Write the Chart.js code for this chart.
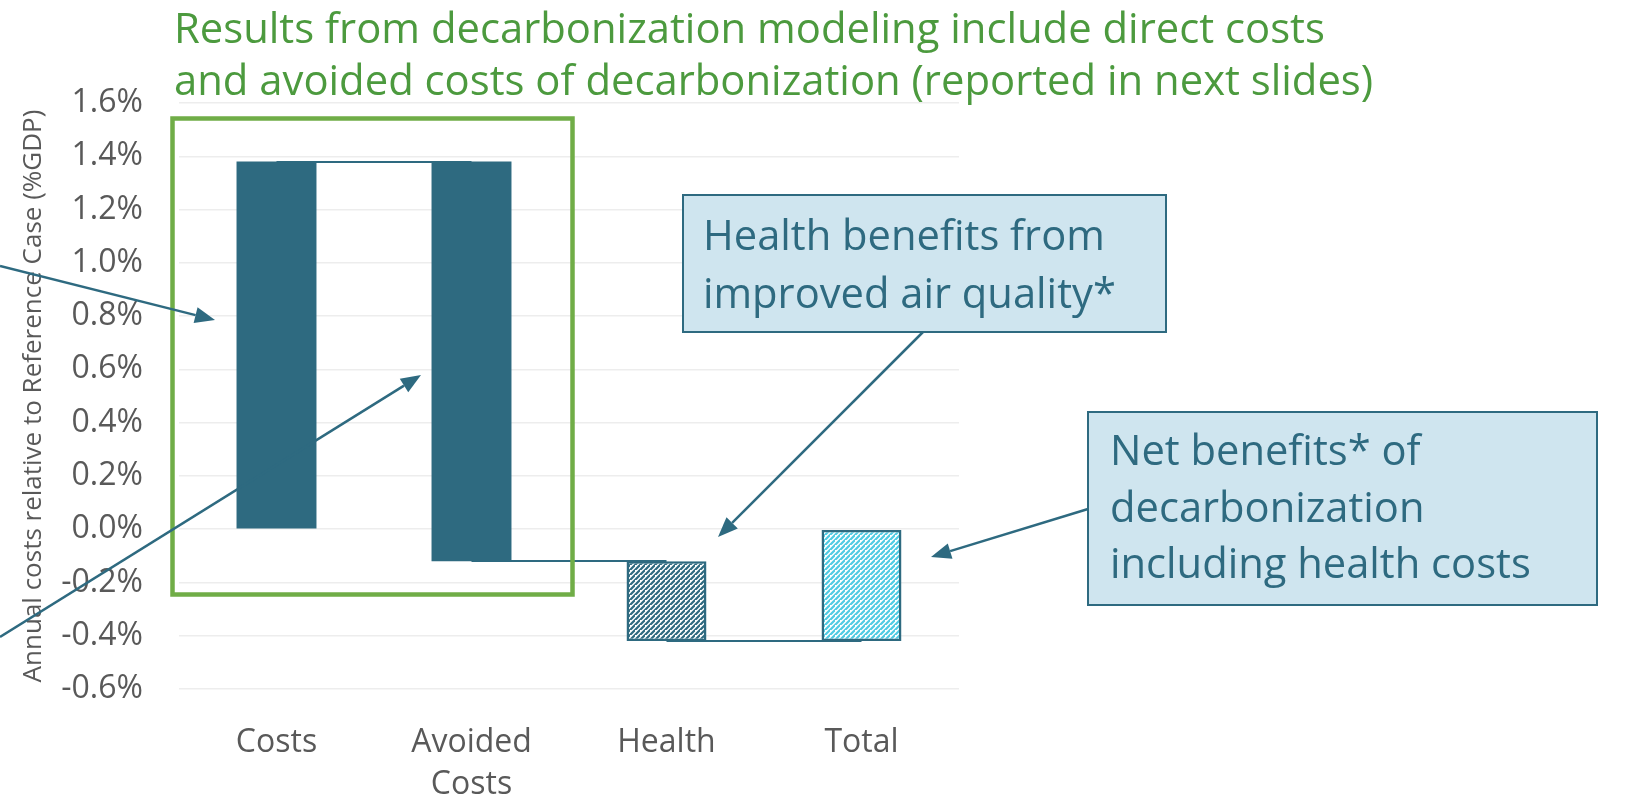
<!DOCTYPE html>
<html>
<head>
<meta charset="utf-8">
<script src="https://cdn.jsdelivr.net/npm/chart.js@4.4.1/dist/chart.umd.min.js"></script>
<style>
  html, body { margin: 0; padding: 0; background: #fff; }
  #wrap { width: 1632px; height: 797px; position: relative; }
</style>
</head>
<body>
<div id="wrap"><canvas id="chart"></canvas></div>
<script>
// waterfall data (% of GDP)
const categories = ['Costs', ['Avoided', 'Costs'], 'Health', 'Total'];
const barStart = [0, 1.38, -0.12, 0];
const barEnd = [1.38, -0.12, -0.42, -0.42];
const yTicks = { min: -0.6, max: 1.6, step: 0.2 };

const headline = [
    'Results from decarbonization modeling include direct costs',
    'and avoided costs of decarbonization (reported in next slides)'
];
const healthNote = ['Health benefits from', 'improved air quality*'];
const netNote = ['Net benefits* of', 'decarbonization', 'including health costs'];

const TEAL = '#2E6A80';
const FONT = '"Open Sans", "Noto Sans", sans-serif';

function hatch(color) {
    const n = 5;
    const c = document.createElement('canvas');
    c.width = c.height = n;
    const g = c.getContext('2d');
    g.fillStyle = '#fff';
    g.fillRect(0, 0, n, n);
    g.strokeStyle = color;
    g.lineWidth = 2.2;
    g.beginPath();
    g.moveTo(-1, n + 1); g.lineTo(n + 1, -1);
    g.moveTo(-n - 1, n + 1 - n); g.lineTo(1, -n - 1 + n - n);
    g.moveTo(-1, 2 * n + 1); g.lineTo(2 * n + 1, -1);
    g.moveTo(-n - 1, 2 * n + 1); g.lineTo(n + 1, -1 - n + n);
    g.stroke();
    return g.createPattern(c, 'repeat');
}

function arrow(ctx, x1, y1, x2, y2) {
    const a = Math.atan2(y2 - y1, x2 - x1);
    const len = 20, w = 8;
    const bx = x2 - len * Math.cos(a), by = y2 - len * Math.sin(a);
    ctx.beginPath();
    ctx.moveTo(x1, y1);
    ctx.lineTo(bx, by);
    ctx.stroke();
    ctx.beginPath();
    ctx.moveTo(x2, y2);
    ctx.lineTo(bx + w * Math.sin(a), by - w * Math.cos(a));
    ctx.lineTo(bx - w * Math.sin(a), by + w * Math.cos(a));
    ctx.closePath();
    ctx.fill();
}

function noteBox(ctx, x, y, w, h, lines, tx, baselines, size) {
    ctx.fillStyle = '#CFE5EF';
    ctx.fillRect(x, y, w, h);
    ctx.strokeStyle = TEAL;
    ctx.lineWidth = 2;
    ctx.strokeRect(x, y, w, h);
    ctx.fillStyle = TEAL;
    ctx.font = size + 'px ' + FONT;
    ctx.textAlign = 'left';
    ctx.textBaseline = 'alphabetic';
    lines.forEach((t, i) => ctx.fillText(t, tx, baselines[i]));
}

// connectors between the waterfall steps, under the bars
const connectors = {
    id: 'connectors',
    beforeDatasetsDraw(chart) {
        const { ctx, scales: { x, y } } = chart;
        ctx.save();
        ctx.strokeStyle = TEAL;
        ctx.lineWidth = 2;
        for (let i = 0; i < barEnd.length - 1; i++) {
            const py = Math.round(y.getPixelForValue(barEnd[i]));
            ctx.beginPath();
            ctx.moveTo(x.getPixelForValue(i), py);
            ctx.lineTo(x.getPixelForValue(i + 1), py);
            ctx.stroke();
        }
        ctx.restore();
    }
};

// slide decorations: headline, green frame, arrows and call-outs
const overlay = {
    id: 'overlay',
    afterDraw(chart) {
        const ctx = chart.ctx;
        ctx.save();
        ctx.fillStyle = '#4C9A3E';
        ctx.font = '41.8px ' + FONT;
        ctx.textAlign = 'left';
        ctx.textBaseline = 'middle';
        ctx.fillText(headline[0], 174, 31);
        ctx.fillText(headline[1], 174, 83);

        ctx.strokeStyle = '#70AD47';
        ctx.lineWidth = 4.5;
        ctx.strokeRect(172.5, 118.5, 400, 476);

        ctx.strokeStyle = TEAL;
        ctx.fillStyle = TEAL;
        ctx.lineWidth = 2.5;
        arrow(ctx, 0, 266, 215, 320);
        arrow(ctx, 0, 637, 421, 375);
        arrow(ctx, 923, 332, 718, 537);
        arrow(ctx, 1088, 509, 931, 557);

        noteBox(ctx, 683, 195, 483, 137, healthNote, 703, [250, 308], 41.7);
        noteBox(ctx, 1088, 412, 509, 193, netNote, 1110, [465, 522, 578], 41.7);
        ctx.restore();
    }
};

new Chart(document.getElementById('chart'), {
    type: 'bar',
    data: {
        labels: categories,
        datasets: [{
            data: barStart.map((s, i) => [s, barEnd[i]]),
            backgroundColor: [TEAL, TEAL, hatch(TEAL), hatch('#4FCBE3')],
            borderColor: TEAL,
            borderWidth: [0, 0, 2.5, 2.5],
            borderSkipped: false,
            barPercentage: 0.41,
            categoryPercentage: 1
        }]
    },
    options: {
        responsive: true,
        maintainAspectRatio: false,
        animation: false,
        layout: { padding: { top: 103, right: 673, bottom: 0, left: 0 } },
        plugins: {
            legend: { display: false },
            tooltip: { enabled: false }
        },
        scales: {
            x: {
                grid: { display: false, drawTicks: false },
                border: { display: false },
                ticks: {
                    color: '#595959',
                    padding: 33,
                    font: { family: FONT, size: 32, lineHeight: 1.3 }
                },
                afterFit: s => { s.height = 108; }
            },
            y: {
                min: yTicks.min,
                max: yTicks.max,
                grid: { color: '#EDEDED', lineWidth: 1.5, drawTicks: false },
                border: { display: false },
                ticks: {
                    stepSize: yTicks.step,
                    color: '#595959',
                    padding: 36,
                    font: { family: FONT, size: 32 },
                    callback: v => v.toFixed(1) + '%'
                },
                title: {
                    display: true,
                    text: 'Annual costs relative to Reference Case (%GDP)',
                    color: '#595959',
                    font: { family: FONT, size: 26 },
                    padding: { top: 18, bottom: 0 }
                },
                afterFit: s => { s.width = 179; }
            }
        }
    },
    plugins: [connectors, overlay]
});
</script>
</body>
</html>
